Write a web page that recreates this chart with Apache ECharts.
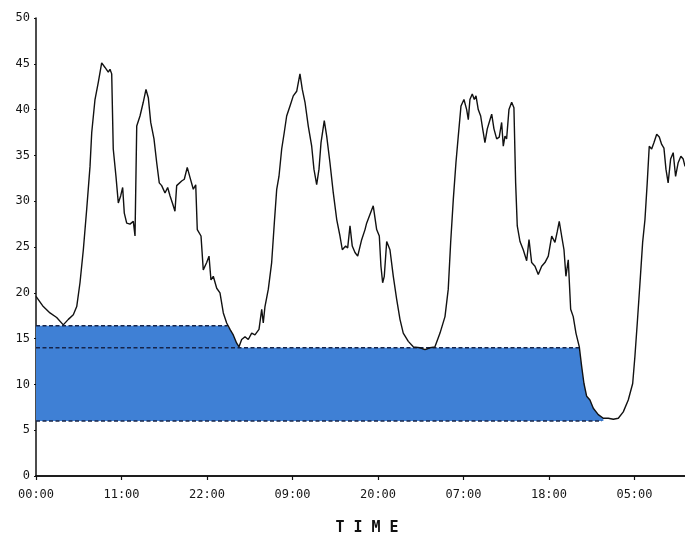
<!DOCTYPE html>
<html>
<head>
<meta charset="utf-8">
<script src="https://cdn.jsdelivr.net/npm/echarts@6/dist/echarts.min.js"></script>
<style>html,body{margin:0;padding:0;background:#fff;}#c{width:685px;height:534px;}</style>
</head>
<body>
<div id="c"></div>
<script>
// Elapsed hours from start (00:00)
const hours = [0,0.94,1.80,2.66,3.51,4.16,4.80,5.24,5.66,6.09,6.52,6.95,7.17,7.59,8.02,8.45,8.88,9.30,9.52,9.74,9.94,10.29,10.59,10.90,11.15,11.36,11.67,12.09,12.52,12.74,12.96,13.38,13.80,14.15,14.45,14.76,15.18,15.53,15.86,16.17,16.60,16.94,17.24,17.59,17.88,18.10,18.74,19.08,19.46,19.81,20.24,20.55,20.75,21.23,21.52,21.96,22.26,22.51,22.81,23.25,23.67,24.10,24.53,24.96,25.38,25.82,26.12,26.46,26.89,27.31,27.75,28.17,28.69,29.04,29.24,29.46,29.89,30.32,30.66,30.97,31.26,31.61,31.94,32.25,32.68,33.10,33.54,33.96,34.26,34.61,35.03,35.47,35.76,36.11,36.41,36.67,37.09,37.40,37.82,38.25,38.69,39.11,39.41,39.84,40.10,40.40,40.69,41.04,41.39,41.90,42.33,42.54,43.39,43.83,44.17,44.38,44.60,44.81,45.12,45.54,45.97,46.40,46.83,47.25,47.90,48.54,49.40,50.05,50.69,51.33,51.98,52.62,53.04,53.35,53.69,54.03,54.33,54.68,55.06,55.41,55.62,55.83,56.13,56.39,56.61,56.90,57.21,57.47,57.76,58.06,58.41,58.63,58.92,59.27,59.60,59.91,60.12,60.34,60.55,60.85,61.20,61.49,61.71,61.92,62.27,62.69,63.13,63.43,63.77,64.20,64.62,65.06,65.48,65.91,66.35,66.77,67.07,67.32,67.63,67.93,68.18,68.48,68.79,69.12,69.47,69.90,70.20,70.50,70.85,71.27,71.70,72.34,72.99,73.63,74.28,74.92,75.56,76.20,76.77,77.06,77.36,77.71,78.05,78.35,78.64,78.90,79.21,79.51,79.86,80.19,80.50,80.79,81.05,81.33,81.65,81.98,82.29,82.62,82.97,83.27,83.50];
const values = [19.6,18.5,17.8,17.3,16.5,17.1,17.6,18.5,21.1,24.7,29.1,33.8,37.5,41.1,43.0,45.1,44.6,44.1,44.4,43.9,35.7,32.7,29.8,30.6,31.5,28.7,27.6,27.5,27.8,26.2,38.2,39.3,40.8,42.2,41.3,38.6,36.8,34.2,32.0,31.7,30.9,31.5,30.6,29.7,28.9,31.7,32.2,32.4,33.7,32.6,31.3,31.8,26.9,26.2,22.5,23.3,24.0,21.4,21.8,20.5,20.0,17.8,16.7,16.0,15.4,14.5,14.1,14.9,15.2,14.9,15.6,15.4,16.0,18.2,16.7,18.5,20.4,23.3,27.6,31.3,32.7,35.7,37.5,39.3,40.4,41.5,42.0,43.9,42.2,40.8,38.2,36.0,33.5,31.8,33.5,36.4,38.8,37.1,34.2,30.9,28.0,26.2,24.7,25.1,24.9,27.3,25.1,24.4,24.0,25.8,26.9,27.6,29.5,26.9,26.2,22.9,21.1,21.8,25.6,24.7,21.8,19.3,17.1,15.6,14.7,14.1,14.0,13.8,14.0,14.1,15.6,17.4,20.4,25.5,30.2,34.2,37.1,40.4,41.1,40.0,38.9,41.1,41.7,41.1,41.5,40.0,39.3,37.9,36.4,37.9,38.9,39.5,37.9,36.8,37.0,38.6,36.0,37.1,36.8,40.0,40.8,40.2,32.0,27.3,25.6,24.7,23.5,25.8,23.3,22.9,22.0,22.9,23.3,24.0,26.2,25.5,26.7,27.8,26.2,24.7,21.8,23.6,18.2,17.4,15.6,14.1,12.0,10.1,8.7,8.3,7.4,6.7,6.3,6.3,6.2,6.3,7.0,8.3,10.1,13.1,16.7,21.1,25.5,28.0,32.0,36.0,35.7,36.4,37.3,37.0,36.2,35.8,33.5,32.0,34.6,35.3,32.7,34.2,34.9,34.6,33.8];
const xTickLabels = ['00:00','11:00','22:00','09:00','20:00','07:00','18:00','05:00'];
const yTicks = [0,5,10,15,20,25,30,35,40,45,50];

// Shaded band levels (data units) and extents (hours)
const bandBase = 6.0;
const bandMid = 14.0;
const bandUpper = 16.4;
const upperUntil = 26.1;   // upper level applies before this hour
const fillEnd = 73.0;
const upperDashEnd = 24.7;
const midDashEnd = 70.0;
const baseDashEnd = 72.8;

const curve = hours.map((h, i) => [h, values[i]]);
const fill = [];
hours.forEach((h, i) => {
  if (h <= fillEnd) {
    const top = h < upperUntil ? bandUpper : bandMid;
    fill.push([h, Math.max(bandBase, Math.min(values[i], top))]);
  }
});
fill.push([fillEnd, bandBase]);

const fontMono = '"DejaVu Sans Mono", "Liberation Mono", monospace';
const dashStyle = {color: '#16244a', width: 1.6, type: [4, 2.5]};

const chart = echarts.init(document.getElementById('c'), null, {renderer: 'canvas'});
chart.setOption({
  animation: false,
  backgroundColor: '#ffffff',
  grid: {left: 36, right: 0, top: 18, bottom: 58, containLabel: false, outerBoundsMode: 'none'},
  xAxis: [{
    type: 'value', min: 0, max: 83.5, interval: 11,
    name: 'T I M E', nameLocation: 'middle', nameGap: 45,
    nameTextStyle: {fontFamily: fontMono, fontWeight: 'bold', fontSize: 15, color: '#111', padding: [0, 0, 0, 13]},
    axisLine: {show: true, onZero: false, lineStyle: {color: '#111', width: 1.5}},
    axisTick: {show: true, length: 4, lineStyle: {color: '#111', width: 1.2}},
    axisLabel: {
      showMaxLabel: false, margin: 13,
      fontFamily: fontMono, fontSize: 12, color: '#161616',
      formatter: v => (Math.abs(v % 11) < 1e-6 ? xTickLabels[Math.round(v / 11)] : '')
    },
    splitLine: {show: false}
  }, {
    type: 'value', position: 'top', min: 0, max: 83.5,
    axisLine: {show: true, lineStyle: {color: '#111', width: 1.5}},
    axisTick: {show: false}, axisLabel: {show: false}, splitLine: {show: false}
  }],
  yAxis: {
    type: 'value', min: 0, max: 50, interval: 5,
    axisLine: {show: true, onZero: false, lineStyle: {color: '#111', width: 1.5}},
    axisTick: {show: true, length: 2, lineStyle: {color: '#111'}},
    axisLabel: {margin: 6, fontFamily: fontMono, fontSize: 12, color: '#161616',
      formatter: v => (yTicks.indexOf(v) >= 0 ? String(v) : '')},
    splitLine: {show: false}
  },
  series: [
    {
      type: 'line', data: fill, symbol: 'none', silent: true,
      lineStyle: {width: 0, opacity: 0},
      areaStyle: {color: '#3f80d5', opacity: 1, origin: bandBase},
      z: 1
    },
    {type: 'line', data: [[0, bandUpper], [upperDashEnd, bandUpper]], symbol: 'none', lineStyle: dashStyle, z: 2},
    {type: 'line', data: [[0, bandMid], [midDashEnd, bandMid]], symbol: 'none', lineStyle: dashStyle, z: 2},
    {type: 'line', data: [[0, bandBase], [baseDashEnd, bandBase]], symbol: 'none', lineStyle: dashStyle, z: 2},
    {
      type: 'line', data: curve, symbol: 'none',
      lineStyle: {color: '#111', width: 1.4}, z: 3
    }
  ]
});
</script>
</body>
</html>
